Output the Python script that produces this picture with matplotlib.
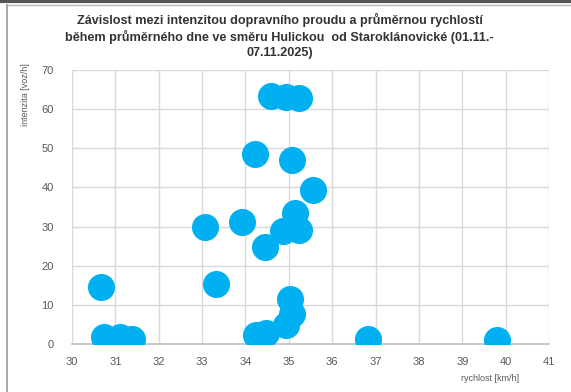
import matplotlib.pyplot as plt
from matplotlib.lines import Line2D

plt.rcParams['font.family'] = ['Liberation Sans', 'DejaVu Sans']

# average speed [km/h] and traffic volume [veh/h] for each hour of the day
rychlost = [30.67, 30.74, 31.10, 31.38, 33.06, 33.33, 33.92, 34.21, 34.24, 34.44,
            34.47, 34.58, 34.87, 34.93, 34.93, 35.02, 35.07, 35.08, 35.15, 35.24,
            35.24, 35.55, 36.83, 39.80]
intenzita = [14.7, 1.9, 1.8, 1.3, 30.0, 15.3, 31.2, 48.6, 2.4, 24.8,
             2.8, 63.3, 28.9, 63.0, 4.9, 11.7, 46.9, 7.7, 33.5, 62.8,
             29.1, 39.3, 1.5, 1.1]

x_ticks = list(range(30, 42))
y_ticks = list(range(0, 80, 10))

title = ("Závislost mezi intenzitou dopravního proudu a průměrnou rychlostí\n"
         "během průměrného dne ve směru Hulickou  od Staroklánovické (01.11.-\n"
         "07.11.2025)")

fig = plt.figure(figsize=(5.71, 3.92), dpi=100)
ax = fig.add_axes([0.1261, 0.1212, 0.8354, 0.7010])

ax.scatter(rychlost, intenzita, s=380, color='#00B0F0', linewidths=0, zorder=3)

ax.set_xlim(30, 41)
ax.set_ylim(0, 70)
ax.set_xticks(x_ticks)
ax.set_yticks(y_ticks)
ax.grid(True, color='#D9D9D9', linewidth=1.0, zorder=0)
ax.set_axisbelow(True)
for side in ['top', 'right', 'left']:
    ax.spines[side].set_visible(False)
ax.spines['bottom'].set_color('#BFBFBF')
ax.spines['bottom'].set_linewidth(1.2)
ax.tick_params(length=0, labelsize=8, colors='#595959')
ax.tick_params(axis='y', pad=13)
ax.tick_params(axis='x', pad=9)

fig.text(0.49, 0.967, title, ha='center', va='top', fontsize=9.1,
         fontweight='bold', color='#333333', linespacing=1.3)
fig.text(0.044, 0.84, 'intenzita [voz/h]', rotation=90, ha='center', va='top',
         fontsize=6.5, color='#595959')
fig.text(0.91, 0.035, 'rychlost [km/h]', ha='right', va='center',
         fontsize=6.5, color='#595959')

# frame edges of the chart area
fig.add_artist(Line2D([0, 1], [0.997, 0.997], transform=fig.transFigure,
                      color='#555555', linewidth=3))
fig.add_artist(Line2D([0.0125, 1], [0.987, 0.987], transform=fig.transFigure,
                      color='#BBBBBB', linewidth=1))
fig.add_artist(Line2D([0.0125, 0.0125], [0, 0.987], transform=fig.transFigure,
                      color='#999999', linewidth=1.2))

fig.savefig('out.png', dpi=100)
